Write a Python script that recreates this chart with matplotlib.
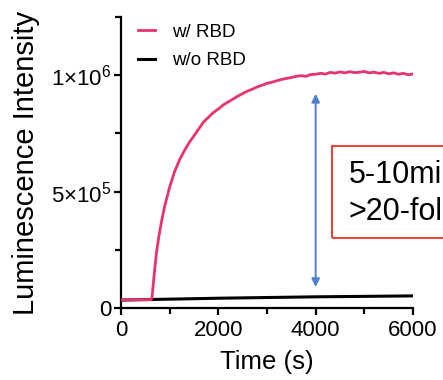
import matplotlib
matplotlib.use("Agg")
import matplotlib.pyplot as plt
from matplotlib.patches import Rectangle
from matplotlib.ticker import MultipleLocator, FixedLocator

plt.rcParams['font.family'] = ['Liberation Sans', 'DejaVu Sans']
plt.rcParams['mathtext.fontset'] = 'custom'
plt.rcParams['mathtext.rm'] = 'Liberation Sans'

# Luminescence kinetics (time in s, intensity in RLU)
time_rbd = [0, 300, 620, 640, 680, 730, 780, 840, 900, 1000, 1100, 1200, 1300,
            1400, 1500, 1600, 1700, 1800, 1900, 2000, 2100, 2200, 2300, 2400,
            2500, 2600, 2700, 2800, 2900, 3000, 3100, 3200, 3300, 3400, 3500,
            3600, 3700, 3800, 3900, 4000, 4100, 4200, 4300, 4400, 4500, 4600,
            4700, 4800, 4900, 5000, 5100, 5200, 5300, 5400, 5500, 5600, 5700,
            5800, 5900, 6000]
lum_rbd = [0.035, 0.036, 0.036, 0.05, 0.14, 0.24, 0.31, 0.38, 0.44, 0.52, 0.585,
           0.635, 0.675, 0.71, 0.74, 0.77, 0.80, 0.82, 0.84, 0.855, 0.872, 0.885,
           0.897, 0.910, 0.921, 0.932, 0.940, 0.950, 0.957, 0.965, 0.970, 0.976,
           0.982, 0.986, 0.990, 0.995, 0.998, 0.995, 1.003, 1.004, 1.008, 1.005,
           1.012, 1.009, 1.014, 1.010, 1.015, 1.011, 1.013, 1.016, 1.010, 1.013,
           1.008, 1.012, 1.006, 1.010, 1.004, 1.008, 1.002, 1.005]
time_ctrl = [0, 1000, 2000, 3000, 4000, 5000, 6000]
lum_ctrl = [0.034, 0.038, 0.042, 0.045, 0.048, 0.050, 0.052]

lum_rbd = [v * 1e6 for v in lum_rbd]
lum_ctrl = [v * 1e6 for v in lum_ctrl]

ytick_vals = [0, 5e5, 1e6]
ytick_labels = ['0', r'$\mathregular{5{\times}10^5}$', r'$\mathregular{1{\times}10^6}$']
xtick_vals = [0, 2000, 4000, 6000]

pink = '#e8336b'
fig = plt.figure(figsize=(4.43, 3.80), dpi=100)
ax = fig.add_axes([121 / 443, 1 - 308 / 380, (413 - 121) / 443, (308 - 17) / 380])

ax.plot(time_ctrl, lum_ctrl, color='black', lw=2.2, label='w/o RBD', zorder=2)
ax.plot(time_rbd, lum_rbd, color=pink, lw=2.0, label='w/ RBD', zorder=3)

ax.set_xlim(0, 6000)
ax.set_ylim(0, 1.25e6)
ax.set_xticks(xtick_vals)
ax.xaxis.set_minor_locator(MultipleLocator(1000))
ax.set_yticks(ytick_vals)
ax.set_yticklabels(ytick_labels)
ax.yaxis.set_minor_locator(FixedLocator([2.5e5, 7.5e5, 1.25e6]))

for s in ['top', 'right']:
    ax.spines[s].set_visible(False)
for s in ['left', 'bottom']:
    ax.spines[s].set_linewidth(1.6)
ax.tick_params(which='major', length=5, width=1.6, labelsize=16)
ax.tick_params(axis='x', which='major', pad=4)
ax.tick_params(axis='y', which='major', pad=2)
ax.tick_params(which='minor', length=4.5, width=1.6)

ax.set_xlabel('Time (s)', fontsize=18.5, labelpad=6)
ax.set_ylabel('Luminescence Intensity', fontsize=21, labelpad=8)

# Legend, listed with the RBD trace first
h, l = ax.get_legend_handles_labels()
ax.legend(h[::-1], l[::-1], loc='upper left', bbox_to_anchor=(0.0, 1.035),
          frameon=False, fontsize=13.5, handlelength=0.9, handletextpad=0.9,
          labelspacing=0.6)

# Fold-change arrow at t = 4000 s
ax.annotate('', xy=(4000, 0.09e6), xytext=(4000, 0.92e6),
            arrowprops=dict(arrowstyle='<|-|>', color='#4f7fd0', lw=1.4,
                            mutation_scale=12, shrinkA=0, shrinkB=0))

# Annotation box on the right
fig.patches.append(Rectangle((332 / 443, 1 - 238 / 380), 0.5, (238 - 146) / 380,
                             transform=fig.transFigure, fill=False,
                             edgecolor='#e8463c', lw=1.5))
fig.text(349 / 443, 1 - 183 / 380, '5-10min', fontsize=22, va='baseline')
fig.text(349 / 443, 1 - 220 / 380, '>20-fold', fontsize=22, va='baseline')

fig.savefig('out.png', dpi=100)
